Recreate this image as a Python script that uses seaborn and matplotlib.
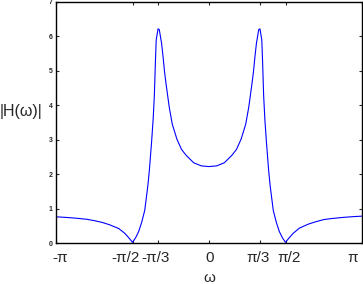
import numpy as np
import pandas as pd
import matplotlib
matplotlib.use("Agg")
import matplotlib.pyplot as plt
import matplotlib.transforms as mtransforms
import seaborn as sns

# omega as fractions of pi
omega_over_pi = [
    -1.00, -0.94, -0.88, -0.80, -0.75, -0.70, -0.65, -0.59, -0.55, -0.52,
    -0.50, -0.48, -0.46, -0.44, -0.42, -0.40, -0.39, -0.375, -0.365, -0.357,
    -0.35, -0.345, -0.333, -0.325, -0.31, -0.30, -0.29, -0.28, -0.26, -0.24,
    -0.21, -0.18, -0.15, -0.10, -0.05, 0.00,
    0.05, 0.10, 0.15, 0.18, 0.21, 0.24, 0.26, 0.28, 0.29, 0.30,
    0.31, 0.325, 0.333, 0.345, 0.35, 0.357, 0.365, 0.375, 0.39, 0.40,
    0.42, 0.44, 0.46, 0.48, 0.50, 0.52, 0.55, 0.59, 0.65, 0.70,
    0.75, 0.80, 0.88, 0.94, 1.00,
]
magnitude = [
    0.76, 0.745, 0.725, 0.69, 0.65, 0.60, 0.53, 0.42, 0.28, 0.13,
    0.02, 0.15, 0.33, 0.60, 0.95, 1.65, 2.10, 2.95, 3.60, 4.30,
    5.30, 5.90, 6.22, 6.20, 5.80, 5.40, 4.95, 4.60, 3.95, 3.45,
    3.02, 2.72, 2.55, 2.33, 2.24, 2.22,
    2.24, 2.33, 2.55, 2.72, 3.02, 3.45, 3.95, 4.60, 4.95, 5.40,
    5.80, 6.20, 6.22, 5.90, 5.30, 4.30, 3.60, 2.95, 2.10, 1.65,
    0.95, 0.60, 0.33, 0.15, 0.02, 0.13, 0.28, 0.43, 0.55, 0.62,
    0.68, 0.71, 0.745, 0.765, 0.78,
]
xtick_frac = [-1.0, -0.5, -1/3, 0.0, 1/3, 0.5, 1.0]
xtick_labels = ["-π", "-π/2", "-π/3", "0", "π/3", "π/2", "π"]
ytick_values = [0, 1, 2, 3, 4, 5, 6, 7]

df = pd.DataFrame({"omega": np.array(omega_over_pi) * np.pi, "H": magnitude})

sns.set_style("white")
plt.rcParams["font.family"] = ["Liberation Sans", "DejaVu Sans"]

fig = plt.figure(figsize=(3.63, 2.84), dpi=100)
ax = fig.add_axes([56 / 363, 1 - 243 / 284, 306 / 363, 241 / 284])

sns.lineplot(data=df, x="omega", y="H", ax=ax, color="#0000ff", linewidth=0.8,
             sort=False, estimator=None)

ax.set_xlim(-np.pi, np.pi)
ax.set_ylim(0, 7)
ax.set_xticks(np.array(xtick_frac) * np.pi)
ax.set_xticklabels(xtick_labels, fontsize=11)
ax.set_yticks(ytick_values)
ax.set_yticklabels([str(v) for v in ytick_values], fontsize=5, fontweight="bold")
ax.tick_params(axis="x", direction="in", length=2.5, width=0.8, top=True, bottom=True, pad=5.5)
ax.tick_params(axis="y", direction="in", length=2.5, width=0.8, left=True, right=True, pad=2.5)
for s in ax.spines.values():
    s.set_visible(True)
    s.set_color("black")
    s.set_linewidth(1.0)

# the reference's x tick labels sit slightly off their ticks
label_shift_px = [4, -7.2, -2.8, 0.4, -1.8, 3.2, -9.0]
for lab, dx in zip(ax.get_xticklabels(), label_shift_px):
    lab.set_transform(lab.get_transform() +
                      mtransforms.ScaledTranslation(dx / 100, 0, fig.dpi_scale_trans))

ax.set_xlabel("ω", fontsize=11, va="baseline")
ax.xaxis.set_label_coords(0.5, -0.162)
ax.set_ylabel("|H(ω)|", fontsize=11.5, rotation=0, va="baseline", ha="left")
ax.yaxis.set_label_coords(-0.183, 0.528)

fig.savefig("out.png", dpi=100)
